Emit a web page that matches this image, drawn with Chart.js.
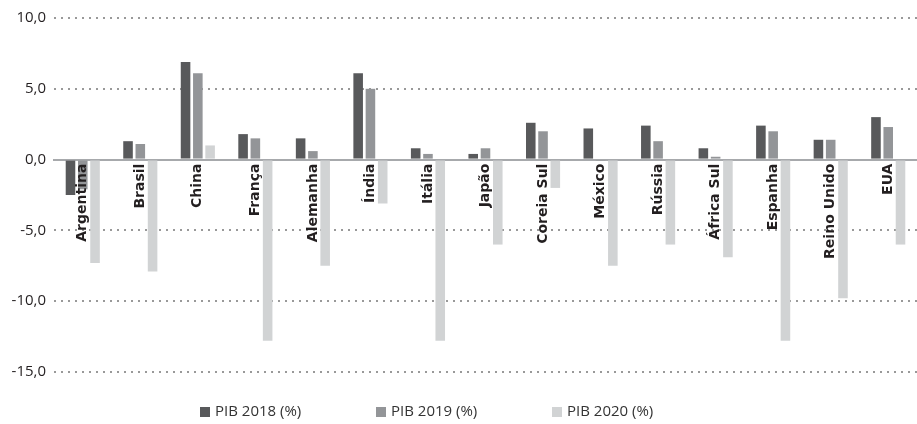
<!DOCTYPE html>
<html>
<head>
<meta charset="utf-8">
<script src="https://cdn.jsdelivr.net/npm/chart.js@4"></script>
<style>
  html, body { margin: 0; padding: 0; background: #fff; }
  #wrap { width: 917px; height: 424px; }
</style>
</head>
<body>
<div id="wrap"><canvas id="grafico"></canvas></div>
<script>
const paises = ['Argentina', 'Brasil', 'China', 'França', 'Alemanha', 'Índia', 'Itália', 'Japão', 'Coreia Sul', 'México', 'Rússia', 'África Sul', 'Espanha', 'Reino Unido', 'EUA'];
const pib2018 = [-2.5, 1.3, 6.9, 1.8, 1.5, 6.1, 0.8, 0.4, 2.6, 2.2, 2.4, 0.8, 2.4, 1.4, 3.0];
const pib2019 = [-2.1, 1.1, 6.1, 1.5, 0.6, 5.0, 0.4, 0.8, 2.0, -0.1, 1.3, 0.2, 2.0, 1.4, 2.3];
const pib2020 = [-7.3, -7.9, 1.0, -12.8, -7.5, -3.1, -12.8, -6.0, -2.0, -7.5, -6.0, -6.9, -12.8, -9.8, -6.0];
const rotulos = ['PIB 2018 (%)', 'PIB 2019 (%)', 'PIB 2020 (%)'];
const cores = ['#58595b', '#939598', '#d1d3d4'];

const fonte = '"Open Sans", sans-serif';

// legenda desenhada embaixo, espaçada como no original
const legendaBaixo = {
  id: 'legendaBaixo',
  afterDraw(chart) {
    const ctx = chart.ctx;
    ctx.save();
    ctx.font = '15px ' + fonte;
    ctx.textBaseline = 'middle';
    chart.data.datasets.forEach((ds, i) => {
      const x = 200 + i * 176;
      const y = 412;
      ctx.fillStyle = ds.backgroundColor;
      ctx.fillRect(x, y - 5, 10, 10);
      ctx.fillStyle = '#333';
      ctx.fillText(ds.label, x + 15, y);
    });
    ctx.restore();
  }
};

const ctx = document.getElementById('grafico').getContext('2d');
const grafico = new Chart(ctx, {
  type: 'bar',
  data: {
    labels: paises,
    datasets: [
      { label: rotulos[0], data: pib2018, backgroundColor: cores[0] },
      { label: rotulos[1], data: pib2019, backgroundColor: cores[1] },
      { label: rotulos[2], data: pib2020, backgroundColor: cores[2] }
    ]
  },
  options: {
    responsive: true,
    maintainAspectRatio: false,
    animation: false,
    layout: { padding: { top: 18, bottom: 52, left: 0, right: 0 } },
    datasets: { bar: { categoryPercentage: 0.64, barPercentage: 0.78 } },
    plugins: {
      legend: { display: false },
      tooltip: { enabled: false }
    },
    scales: {
      x: {
        position: { y: 0 },
        grid: { display: false, drawTicks: false },
        border: { display: true, color: '#a7a9ac', width: 2 },
        ticks: {
          z: 1,
          autoSkip: false,
          minRotation: 90,
          maxRotation: 90,
          padding: 4,
          color: '#231f20',
          font: { family: '"DejaVu Sans", sans-serif', size: 14, weight: 'bold' }
        }
      },
      y: {
        min: -15,
        max: 10,
        afterFit: (s) => { s.width = 54; },
        grid: { color: '#999999', lineWidth: 2, drawTicks: false },
        border: { display: false, dash: [2, 5] },
        ticks: {
          stepSize: 5,
          padding: 8,
          color: '#231f20',
          font: { family: fonte, size: 15 },
          callback: (v) => v.toFixed(1).replace('.', ',')
        }
      }
    }
  },
  plugins: [legendaBaixo]
});
</script>
</body>
</html>
